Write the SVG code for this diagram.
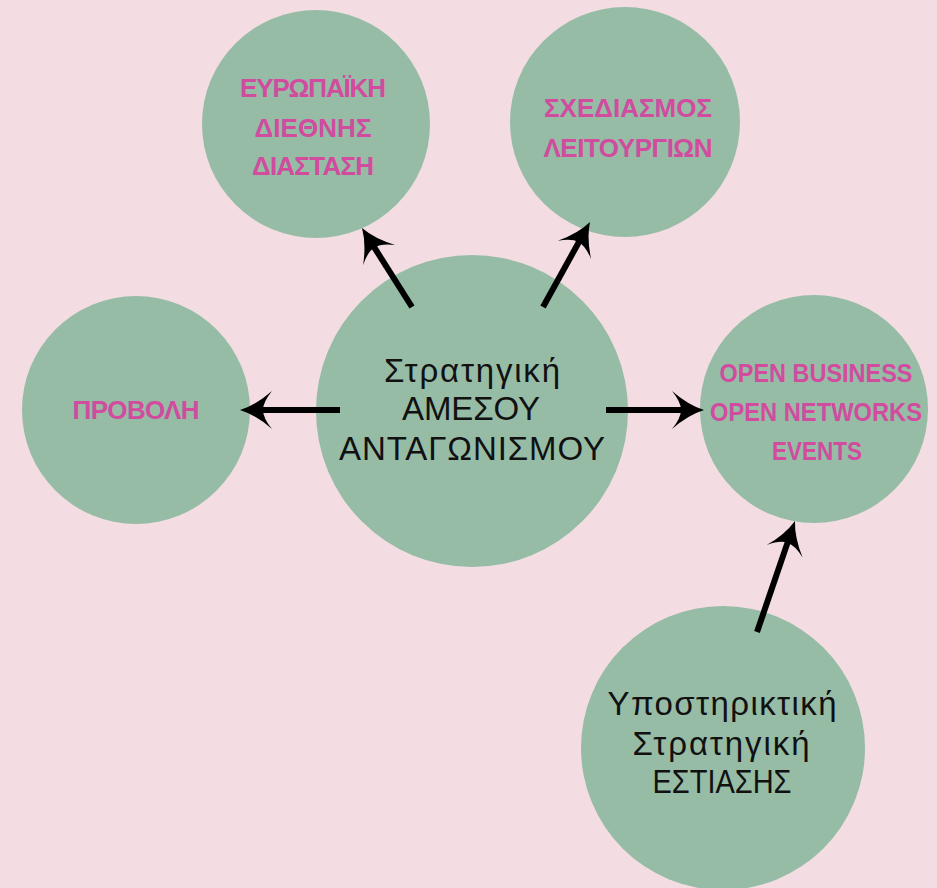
<svg xmlns="http://www.w3.org/2000/svg" width="937" height="888" viewBox="0 0 937 888">
<defs>
<style>
.c{fill:#96bca6}
.p{font-family:"Liberation Sans",Arial,sans-serif;font-weight:bold;font-size:26px;fill:#d14b9f;text-anchor:middle}
.b{font-family:"Liberation Sans",Arial,sans-serif;font-size:33px;fill:#111;text-anchor:middle}
.a{stroke:#000;stroke-width:6;fill:none;marker-end:url(#ah)}
</style>
<marker id="ah" viewBox="-14 -22 36 44" markerWidth="36" markerHeight="44" refX="0" refY="0" orient="auto" markerUnits="userSpaceOnUse">
<path d="M20,0 Q4,-5 -12,-19 Q-3,-8 -3,0 Q-3,8 -12,19 Q4,5 20,0Z" fill="#000"/>
</marker>
</defs>
<rect width="937" height="888" fill="#f3dde3"/>
<g id="n-europe">
<circle class="c" cx="316" cy="124" r="114"/>
<text class="p" x="313" y="97" textLength="146">ΕΥΡΩΠΑΪΚΗ</text>
<text class="p" x="313" y="137" textLength="117">ΔΙΕΘΝΗΣ</text>
<text class="p" x="313" y="175" textLength="122">ΔΙΑΣΤΑΣΗ</text>
</g>
<g id="n-plan">
<circle class="c" cx="625" cy="122" r="115"/>
<text class="p" x="628" y="117" textLength="168">ΣΧΕΔΙΑΣΜΟΣ</text>
<text class="p" x="628" y="157" textLength="169">ΛΕΙΤΟΥΡΓΙΩΝ</text>
</g>
<g id="n-provoli">
<circle class="c" cx="136" cy="410" r="114"/>
<text class="p" x="136" y="419" textLength="127">ΠΡΟΒΟΛΗ</text>
</g>
<g id="n-main">
<circle class="c" cx="472" cy="411" r="156"/>
<text class="b" x="472" y="382" textLength="176">Στρατηγική</text>
<text class="b" x="471" y="420" textLength="138">ΑΜΕΣΟΥ</text>
<text class="b" x="472" y="460" textLength="266">ΑΝΤΑΓΩΝΙΣΜΟΥ</text>
</g>
<g id="n-open">
<circle class="c" cx="814" cy="409" r="114"/>
<text class="p" x="816" y="382" textLength="193" lengthAdjust="spacingAndGlyphs">OPEN BUSINESS</text>
<text class="p" x="816" y="421" textLength="212" lengthAdjust="spacingAndGlyphs">OPEN NETWORKS</text>
<text class="p" x="817" y="460" textLength="90" lengthAdjust="spacingAndGlyphs">EVENTS</text>
</g>
<g id="n-support">
<circle class="c" cx="723" cy="748" r="142"/>
<text class="b" x="722" y="715" textLength="229">Υποστηρικτική</text>
<text class="b" x="721" y="755" textLength="177">Στρατηγική</text>
<text class="b" x="722" y="793" textLength="139" lengthAdjust="spacingAndGlyphs">ΕΣΤΙΑΣΗΣ</text>
</g>
<g id="connectors">
<line class="a" x1="340" y1="410" x2="260" y2="410"/>
<line class="a" x1="606" y1="410" x2="684" y2="410"/>
<line class="a" x1="412" y1="307" x2="372.7" y2="244.9"/>
<line class="a" x1="543" y1="307" x2="580.3" y2="239.5"/>
<line class="a" x1="757" y1="632" x2="788.5" y2="539.9"/>
</g>
</svg>
